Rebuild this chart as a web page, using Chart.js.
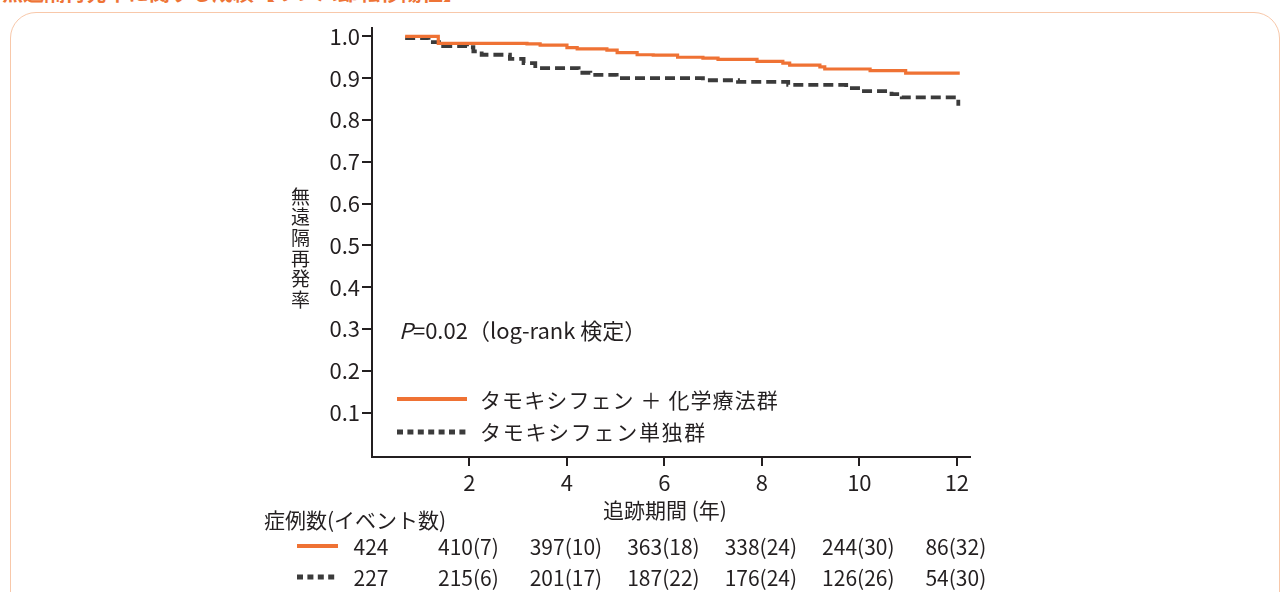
<!DOCTYPE html>
<html lang="ja">
<head>
<meta charset="utf-8">
<script src="https://cdn.jsdelivr.net/npm/chart.js@4.4.1/dist/chart.umd.min.js"></script>
<style>
  html, body { margin: 0; padding: 0; background: #fff; }
  body {
    width: 1285px; height: 592px; position: relative; overflow: hidden;
    font-family: "Noto Sans CJK JP", "Noto Sans", sans-serif; color: #231f20;
  }
  #frame {
    position: absolute; left: 10px; top: 12px; width: 1270px; height: 660px;
    border: 1.5px solid #f8c8aa; border-radius: 26px; box-sizing: border-box;
  }
  #heading {
    position: absolute; left: 2px; top: -21px; font-size: 21px; font-weight: 700;
    color: #ee7436; white-space: nowrap; line-height: 24px;
  }
  #wrap { position: absolute; left: 0; top: 0; width: 1285px; height: 592px; }
  .t { position: absolute; white-space: nowrap; line-height: 1; }
  #ytitle {
    position: absolute; left: 290px; top: 187px; font-size: 19px; line-height: 21px;
    writing-mode: vertical-rl; text-orientation: upright; letter-spacing: 1.6px;
  }
</style>
</head>
<body>
<div id="frame"></div>
<div id="heading">無遠隔再発率に関する成績【リンパ節転移陽性】</div>
<div id="wrap"><canvas id="km" width="1285" height="592"></canvas></div>
<div id="ytitle">無遠隔再発率</div>
<div id="overlay"></div>
<script>
// Kaplan–Meier estimates (years, survival proportion)
const chemoTimes = [0.68, 1.36, 3.18, 3.45, 4.0, 4.21, 4.82, 5.03, 5.44, 5.77, 6.27, 6.79, 7.1, 7.9, 8.43, 8.57, 9.19, 9.29, 10.22, 10.95, 12.06];
const chemoSurv  = [1.0, 0.983, 0.982, 0.979, 0.973, 0.970, 0.967, 0.961, 0.956, 0.955, 0.950, 0.948, 0.945, 0.940, 0.936, 0.931, 0.927, 0.922, 0.918, 0.912, 0.912];
const tamTimes = [0.68, 1.16, 1.46, 1.95, 2.08, 2.25, 2.83, 3.11, 3.35, 4.24, 4.48, 5.02, 6.79, 7.51, 8.54, 9.73, 10.04, 10.66, 10.87, 12.03];
const tamSurv  = [0.996, 0.986, 0.977, 0.974, 0.964, 0.956, 0.946, 0.936, 0.924, 0.913, 0.908, 0.900, 0.895, 0.891, 0.884, 0.876, 0.869, 0.862, 0.854, 0.834];

// Axis ticks
const xTicks = [2, 4, 6, 8, 10, 12];
const yTicks = [0.1, 0.2, 0.3, 0.4, 0.5, 0.6, 0.7, 0.8, 0.9, 1.0];

// Numbers at risk (events) at 0, 2, 4, ... 12 years
const riskTimes   = [0, 2, 4, 6, 8, 10, 12];
const chemoAtRisk = [424, 410, 397, 363, 338, 244, 86];
const chemoEvents = [null, 7, 10, 18, 24, 30, 32];
const tamAtRisk   = [227, 215, 201, 187, 176, 126, 54];
const tamEvents   = [null, 6, 17, 22, 24, 26, 30];

const seriesNames = ['タモキシフェン ＋ 化学療法群', 'タモキシフェン単独群'];

const ORANGE = '#ef7234';
const DARK = '#3b3b3b';
const INK = '#231f20';
const FONT = '"Noto Sans CJK JP", "Noto Sans", sans-serif';

const toPoints = (ts, vs) => ts.map((t, i) => ({ x: t, y: vs[i] }));

// legend swatches and the at-risk row swatches
const swatches = {
  id: 'swatches',
  afterDraw(chart) {
    const ctx = chart.ctx;
    ctx.save();
    const solid = (x1, x2, y) => {
      ctx.setLineDash([]); ctx.strokeStyle = ORANGE; ctx.lineWidth = 4;
      ctx.beginPath(); ctx.moveTo(x1, y); ctx.lineTo(x2, y); ctx.stroke();
    };
    const dotted = (x1, x2, y) => {
      ctx.setLineDash([6, 4.4]); ctx.strokeStyle = DARK; ctx.lineWidth = 5;
      ctx.beginPath(); ctx.moveTo(x1, y); ctx.lineTo(x2, y); ctx.stroke();
    };
    solid(397, 467, 399);
    dotted(397, 469, 432);
    solid(297, 338, 546);
    dotted(297, 338, 577);
    ctx.restore();
  }
};

const chart = new Chart(document.getElementById('km'), {
  type: 'line',
  data: {
    datasets: [
      {
        label: seriesNames[0],
        data: toPoints(chemoTimes, chemoSurv),
        borderColor: ORANGE, borderWidth: 3.2, stepped: true,
        pointRadius: 0, fill: false
      },
      {
        label: seriesNames[1],
        data: toPoints(tamTimes, tamSurv),
        borderColor: DARK, borderWidth: 3.8, borderDash: [10, 5], stepped: true,
        pointRadius: 0, fill: false
      }
    ]
  },
  options: {
    responsive: false,
    devicePixelRatio: 1,
    animation: false,
    layout: { padding: { left: 0, right: 315, top: 28, bottom: 0 } },
    plugins: { legend: { display: false }, tooltip: { enabled: false } },
    scales: {
      x: {
        type: 'linear', min: 0, max: 12.27,
        afterFit: s => { s.height = 135; },
        afterBuildTicks: s => { s.ticks = xTicks.map(v => ({ value: v })); },
        grid: { drawOnChartArea: false, drawTicks: true, tickLength: 9, color: INK, lineWidth: 2 },
        border: { display: true, color: INK, width: 2 },
        ticks: { color: INK, font: { family: FONT, size: 22 }, padding: 3, maxRotation: 0 }
      },
      y: {
        type: 'linear', min: -0.006, max: 1.02,
        afterFit: s => { s.width = 372; },
        afterBuildTicks: s => { s.ticks = yTicks.map(v => ({ value: v })); },
        grid: { drawOnChartArea: false, drawTicks: true, tickLength: 10, color: INK, lineWidth: 2 },
        border: { display: true, color: INK, width: 2 },
        ticks: { color: INK, font: { family: FONT, size: 22 }, padding: 2,
                 callback: v => v.toFixed(1) }
      }
    }
  },
  plugins: [swatches]
});

// text annotations
const overlay = document.getElementById('overlay');
function put(html, x, y, size, align, extra) {
  const d = document.createElement('div');
  d.className = 't';
  d.innerHTML = html;
  d.style.left = x + 'px';
  d.style.top = y + 'px';
  d.style.fontSize = size + 'px';
  const tx = align === 'center' ? '-50%' : (align === 'right' ? '-100%' : '0');
  d.style.transform = `translate(${tx}, -50%)`;
  if (extra) Object.assign(d.style, extra);
  overlay.appendChild(d);
}

put('<i>P</i>=0.02（log-rank 検定）', 399, 329, 22);
put(seriesNames[0], 480, 399, 21, 'left', { letterSpacing: '1.1px' });
put(seriesNames[1], 480, 431, 21, 'left', { letterSpacing: '1.7px' });
put('追跡期間 (年)', 665, 509, 21, 'center');
put('症例数(イベント数)', 264, 519, 21, 'left');

const xs = chart.scales.x;
riskTimes.forEach((t, i) => {
  const px = xs.getPixelForValue(t);
  const a = chemoAtRisk[i] + (chemoEvents[i] === null ? '' : '(' + chemoEvents[i] + ')');
  const b = tamAtRisk[i] + (tamEvents[i] === null ? '' : '(' + tamEvents[i] + ')');
  put(a, px - 1, 546, 21, 'center');
  put(b, px - 1, 577, 21, 'center');
});
</script>
</body>
</html>
